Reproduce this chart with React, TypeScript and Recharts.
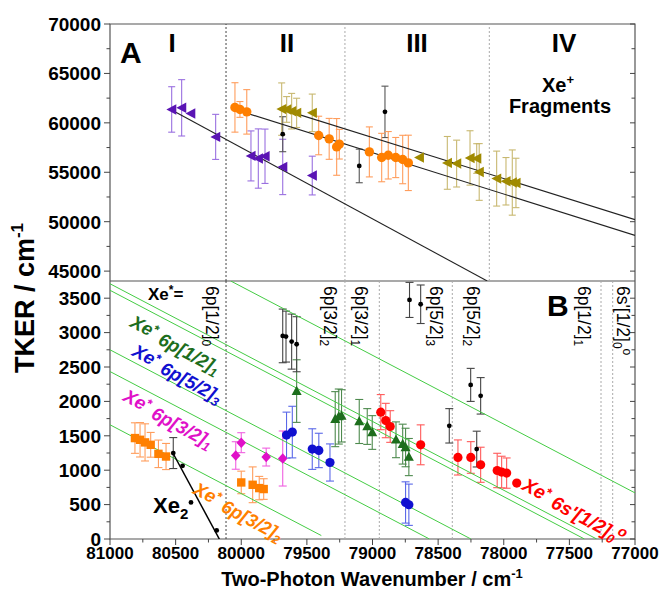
import React from 'react';
import { ComposedChart, Scatter, XAxis, YAxis, ErrorBar, ReferenceLine, ReferenceArea } from 'recharts';

const FONT = "'Liberation Sans', Arial, Helvetica, sans-serif";

// ---------- tick values ----------
const xTicks = [77000, 77250, 77500, 77750, 78000, 78250, 78500, 78750, 79000, 79250, 79500, 79750, 80000, 80250, 80500, 80750, 81000];
const topEdgeTicks = [80333.33, 80000, 79666.67, 79333.33, 79000, 78666.67, 78333.33, 78000];
const yTopTicks = [45000, 47500, 50000, 52500, 55000, 57500, 60000, 62500, 65000, 67500, 70000];
const yBotTicks = [0, 250, 500, 750, 1000, 1250, 1500, 1750, 2000, 2250, 2500, 2750, 3000, 3250, 3500];

// ---------- panel A (Xe+ fragments) : [wavenumber, TKER, error] ----------
const purpleA = [[80530, 61356, 2300], [80454, 61520, 2850], [80195, 58580, 2280], [79926, 56654, 2530], [79870, 56390, 3000], [79819, 56620, 2750], [79684, 55540, 2800], [79459, 54667, 1960]];
const purpleANoErr = [[80385, 60950]];
const orangeA = [[80048, 61560, 2500], [80010, 61356, 800], [79958, 61110, 2250], [79410, 58720, 1950], [79330, 58380, 2070], [79273, 57566, 2870], [79253, 57840, 1500], [79024, 57060, 2530], [78930, 56490, 2450], [78880, 56720, 2400], [78823, 56490, 2030], [78770, 56290, 2450], [78727, 55950, 2800]];
const oliveA = [[79692, 61390, 2650], [79654, 61356, 1300], [79616, 61180, 1800], [79578, 61010, 1480], [79459, 61010, 1900], [78430, 55950, 2670], [78359, 55880, 2370], [78257, 56450, 2750], [78206, 56390, 1500], [78187, 55030, 2870], [78054, 54360, 2780], [77983, 54090, 2400], [77935, 53960, 3300], [77907, 53920, 2500]];
const oliveANoErr = [[78643, 56490]];
const blackA = [[79684, 58850, 1770], [78905, 61112, 2600], [79101, 55640, 1700]];
const fitPurple = [[80530, 61300], [78126, 44000]];
const fitOrange = [[80048, 61356], [77000, 48617]];
const fitOlive = [[79692, 61390], [77000, 50208]];
const regionLinesA = [80116, 79210, 78110];

// ---------- panel B (Xe* etc.) ----------
const orangeB = [[80810, 1467, 222], [80771, 1442, 250], [80733, 1404, 270], [80690, 1369, 180], [80631, 1238, 200], [80573, 1199, 190], [80000, 822, 164], [79913, 788, 260], [79863, 740, 170], [79829, 726, 150]];
const magentaB = [[80042, 1214, 200], [80000, 1400, 145], [79810, 1191, 130], [79684, 1170, 400]];
const blueB = [[79655, 1510, 334], [79611, 1554, 375], [79459, 1307, 295], [79409, 1287, 250], [79324, 1112, 270], [78748, 531, 300], [78723, 498, 300]];
const greenB = [[79578, 2150, 455], [79284, 1742, 400], [79257, 1780, 400], [79236, 1790, 380], [79101, 1708, 320], [79040, 1635, 260], [79002, 1548, 245], [78821, 1442, 260], [78770, 1379, 290], [78748, 1330, 280], [78723, 1191, 270]];
const redB = [[78937, 1844, 255], [78899, 1722, 250], [78865, 1635, 230], [78633, 1369, 290], [78349, 1185, 255], [78251, 1185, 230], [78176, 1079, 255], [78050, 996, 250], [78016, 973, 230], [77978, 958, 220]];
const redBNoErr = [[77901, 813]];
const blackB = [[80518, 1249, 225], [79684, 2952, 390], [79659, 2942, 370], [79616, 2869, 400], [79578, 2831, 400], [78718, 3475, 255], [78633, 3412, 280], [78415, 1645, 250], [78252, 2240, 240], [78176, 2081, 265], [78206, 1307, 260]];
const blackBNoErr = [[80447, 1064], [80383, 531], [80187, 125]];
const xe2Fit = [[80523, 1257], [80167, 0]];
const greenLines = [
  [[81000, 3710], [77292, 0]],
  [[81000, 3615], [77385, 0]],
  [[81000, 2750], [78250, 0]],
  [[81000, 2434], [78566, 0]],
  [[81000, 1660], [79390, 50]],
  [[80080, 3750], [77000, 670]],
];
const levelLinesB = [80116, 79210, 78948, 78392, 77259, 77170];

const toPts = (a: number[][]) => a.map(([x, y, e]) => ({ x, y, e }));

// ---------- marker shapes ----------
const leftTri = (c: string) => (p: any) => (
  <polygon points={`${p.cx - 5.3},${p.cy} ${p.cx + 4.6},${p.cy - 5.2} ${p.cx + 4.6},${p.cy + 5.2}`} fill={c} />
);
const upTri = (c: string) => (p: any) => (
  <polygon points={`${p.cx},${p.cy - 5.4} ${p.cx - 5},${p.cy + 3.8} ${p.cx + 5},${p.cy + 3.8}`} fill={c} />
);
const circ = (c: string, r: number) => (p: any) => <circle cx={p.cx} cy={p.cy} r={r} fill={c} />;
const square = (c: string) => (p: any) => <rect x={p.cx - 4.2} y={p.cy - 4.2} width={8.4} height={8.4} fill={c} />;
const diamond = (c: string) => (p: any) => (
  <polygon points={`${p.cx},${p.cy - 5.3} ${p.cx + 4.8},${p.cy} ${p.cx},${p.cy + 5.3} ${p.cx - 4.8},${p.cy}`} fill={c} />
);
const none = () => <g />;

// ---------- ticks ----------
const PLOT_W = 525;
const makeYTick = (step: number) => (p: any) => {
  const { x, y, payload } = p;
  const v = payload.value;
  const major = Math.abs(v % step) < 1e-6;
  return (
    <g>
      <line x1={x - (major ? 6 : 3.5)} x2={x} y1={y} y2={y} stroke="#444" />
      <line x1={x + PLOT_W - (major ? 5 : 3.5)} x2={x + PLOT_W} y1={y} y2={y} stroke="#444" />
      {major && (
        <text x={x - 9} y={y} dy="0.36em" textAnchor="end" fontSize={19} fontWeight="bold" fontFamily={FONT} fill="#000">
          {v}
        </text>
      )}
    </g>
  );
};
const XTick = (p: any) => {
  const { x, y, payload } = p;
  const v = payload.value;
  const major = Math.abs(v % 500) < 1e-6;
  return (
    <g>
      <line x1={x} x2={x} y1={y} y2={y + (major ? 6 : 3.5)} stroke="#444" />
      {major && (
        <text x={x} y={y + 20} textAnchor="middle" fontSize={17} fontWeight="bold" fontFamily={FONT} fill="#000">
          {v}
        </text>
      )}
    </g>
  );
};
const TopEdgeTick = (p: any) => <line x1={p.x} x2={p.x} y1={p.y} y2={p.y + 5} stroke="#444" />;

const ser = (data: number[][], shape: any, fill: string, errColor?: string, capW = 3.5) => (
  <Scatter data={toPts(data)} dataKey="y" fill={fill} shape={shape} isAnimationActive={false}>
    {errColor ? <ErrorBar dataKey="e" direction="y" stroke={errColor} strokeWidth={1.1} width={capW} /> : null}
  </Scatter>
);
const seg = (data: number[][], color: string, w = 1) => (
  <Scatter data={toPts(data)} dataKey="y" fill={color} shape={none} line={{ stroke: color, strokeWidth: w }} isAnimationActive={false} />
);

export default function App() {
  const c = { orange: '#ff7f00', purple: '#5a14b4', olive: '#a08a00', green: '#1d6e1d', blue: '#1010d0', magenta: '#e010c8', red: '#ff0000' };
  const levelLabel = (x: number, main: string, sub: string, extra?: string) => (
    <text transform={`translate(${x},286) rotate(90)`} fontSize={17.5} fontFamily={FONT} fill="#000">
      {main}
      <tspan dy="0.3em" fontSize="0.68em">{sub}</tspan>
      {extra ? <tspan dy="-0.75em" fontSize="0.7em">{extra}</tspan> : null}
    </text>
  );
  const diag = (x: number, y: number, col: string, main: string, sub: string, extra?: string, fs = 18.5) => (
    <text transform={`translate(${x},${y}) rotate(28)`} fontSize={fs} fontWeight="bold" fontStyle="italic" fontFamily={FONT} fill={col}>
      Xe<tspan dy="-0.4em" fontSize="0.7em">*</tspan>
      <tspan dy="0.4em"> {main}</tspan>
      <tspan dy="0.3em" fontSize="0.68em">{sub}</tspan>
      {extra ? <tspan dy="-0.8em" fontSize="0.75em">{extra}</tspan> : null}
    </text>
  );
  return (
    <div style={{ position: 'absolute', left: 0, top: 0, width: 666, height: 591, background: '#fff' }}>
      <div style={{ position: 'absolute', left: 0, top: 0 }}>
        <ComposedChart width={666} height={281} margin={{ top: 24, right: 31, bottom: 0, left: 0 }}>
          <XAxis dataKey="x" type="number" domain={[77000, 81000]} reversed allowDataOverflow hide />
          <XAxis xAxisId="t" orientation="top" type="number" domain={[77000, 81000]} reversed allowDataOverflow ticks={topEdgeTicks} interval={0} height={0} tickSize={0} tickMargin={0} axisLine={false} tick={TopEdgeTick} />
          <YAxis type="number" domain={[44000, 70000]} allowDataOverflow ticks={yTopTicks} interval={0} width={110} tickSize={0} tickMargin={0} axisLine={false} tick={makeYTick(5000)} />
          <ReferenceArea x1={81000} x2={77000} y1={44000} y2={70000} fill="none" fillOpacity={0} stroke="#555" strokeWidth={1.2} />
          {regionLinesA.map((v, i) => (
            <ReferenceLine key={v} x={v} stroke={i === 0 ? '#444' : '#aaa'} strokeDasharray="2 2" />
          ))}
          {seg(fitPurple, '#222', 1.1)}
          {seg(fitOrange, '#222', 1.1)}
          {seg(fitOlive, '#222', 1.1)}
          {ser(purpleA, leftTri(c.purple), c.purple, '#9a70e0')}
          {ser(purpleANoErr, leftTri(c.purple), c.purple)}
          {ser(blackA, circ('#000', 2.4), '#000', '#555')}
          {ser(orangeA, circ(c.orange, 4.7), c.orange, '#ff9d5c')}
          {ser(oliveA, leftTri(c.olive), c.olive, '#c8b870')}
          {ser(oliveANoErr, leftTri(c.olive), c.olive)}
        </ComposedChart>
      </div>
      <div style={{ position: 'absolute', left: 0, top: 281 }}>
        <ComposedChart width={666} height={310} margin={{ top: 0, right: 31, bottom: 0, left: 0 }}>
          <XAxis dataKey="x" type="number" domain={[77000, 81000]} reversed allowDataOverflow ticks={xTicks} interval={0} height={52} tickSize={0} tickMargin={0} axisLine={false} tick={XTick} />
          <YAxis type="number" domain={[0, 3750]} allowDataOverflow ticks={yBotTicks} interval={0} width={110} tickSize={0} tickMargin={0} axisLine={false} tick={makeYTick(500)} />
          <ReferenceArea x1={81000} x2={77000} y1={0} y2={3750} fill="none" fillOpacity={0} stroke="#555" strokeWidth={1.2} />
          {levelLinesB.map((v, i) => (
            <ReferenceLine key={v} x={v} stroke={i === 0 ? '#444' : '#aaa'} strokeDasharray="2 2" />
          ))}
          {greenLines.map((l, i) => (
            <React.Fragment key={i}>{seg(l, '#44cc44')}</React.Fragment>
          ))}
          {seg(xe2Fit, '#000', 1.5)}
          {ser(orangeB, square(c.orange), c.orange, '#ff9d5c', 4)}
          {ser(magentaB, diamond(c.magenta), c.magenta, '#f060e0', 4)}
          {ser(blueB, circ(c.blue, 4.6), c.blue, '#5a68e8', 4)}
          {ser(greenB, upTri(c.green), c.green, '#4e8a4e', 4)}
          {ser(redB, circ(c.red, 4.6), c.red, '#ff5a5a', 4)}
          {ser(redBNoErr, circ(c.red, 4.6), c.red)}
          {ser(blackB, circ('#000', 2.4), '#000', '#444', 4)}
          {ser(blackBNoErr, circ('#000', 2.4), '#000')}
        </ComposedChart>
      </div>
      <svg width={666} height={591} style={{ position: 'absolute', left: 0, top: 0, pointerEvents: 'none' }} fontFamily={FONT}>
        <text x={120} y={63} fontSize={30} fontWeight="bold">A</text>
        <text x={172} y={52} fontSize={26} fontWeight="bold" textAnchor="middle">I</text>
        <text x={287} y={52} fontSize={26} fontWeight="bold" textAnchor="middle">II</text>
        <text x={417} y={52} fontSize={26} fontWeight="bold" textAnchor="middle">III</text>
        <text x={564} y={52} fontSize={26} fontWeight="bold" textAnchor="middle">IV</text>
        <text x={558} y={92} fontSize={20} fontWeight="bold" textAnchor="middle">
          Xe<tspan dy="-8" fontSize={13}>+</tspan>
        </text>
        <text x={560} y={113} fontSize={20} fontWeight="bold" textAnchor="middle">Fragments</text>
        <text x={547} y={316} fontSize={30} fontWeight="bold">B</text>
        <text x={148} y={300} fontSize={17} fontWeight="bold">
          Xe<tspan dy="-6" fontSize={12}>*</tspan><tspan dy="6">=</tspan>
        </text>
        {levelLabel(206, '6p[1/2]', '0')}
        {levelLabel(324, '6p[3/2]', '2')}
        {levelLabel(355, '6p[3/2]', '1')}
        {levelLabel(430, '6p[5/2]', '3')}
        {levelLabel(467, '6p[5/2]', '2')}
        {levelLabel(578, '6p[1/2]', '1')}
        {levelLabel(617, "6s'[1/2]", '0', 'o')}
        {diag(129, 326, c.green, '6p[1/2]', '1')}
        {diag(131, 355, c.blue, '6p[5/2]', '3')}
        {diag(122, 400, c.magenta, '6p[3/2]', '1')}
        {diag(192, 493, c.orange, '6p[3/2]', '2')}
        {diag(521, 489, c.red, "6s'[1/2]", '0', 'o', 19)}
        <text x={153} y={513} fontSize={22} fontWeight="bold" fill="#000">
          Xe<tspan dy="6" fontSize={15}>2</tspan>
        </text>
        <text x={372} y={586} fontSize={20} fontWeight="bold" textAnchor="middle">
          Two-Photon Wavenumber / cm<tspan dy="-8" fontSize={13}>-1</tspan>
        </text>
        <text transform="translate(34,298) rotate(-90)" fontSize={27} fontWeight="bold" textAnchor="middle">
          TKER / cm<tspan dy="-11" fontSize={17}>-1</tspan>
        </text>
      </svg>
    </div>
  );
}
